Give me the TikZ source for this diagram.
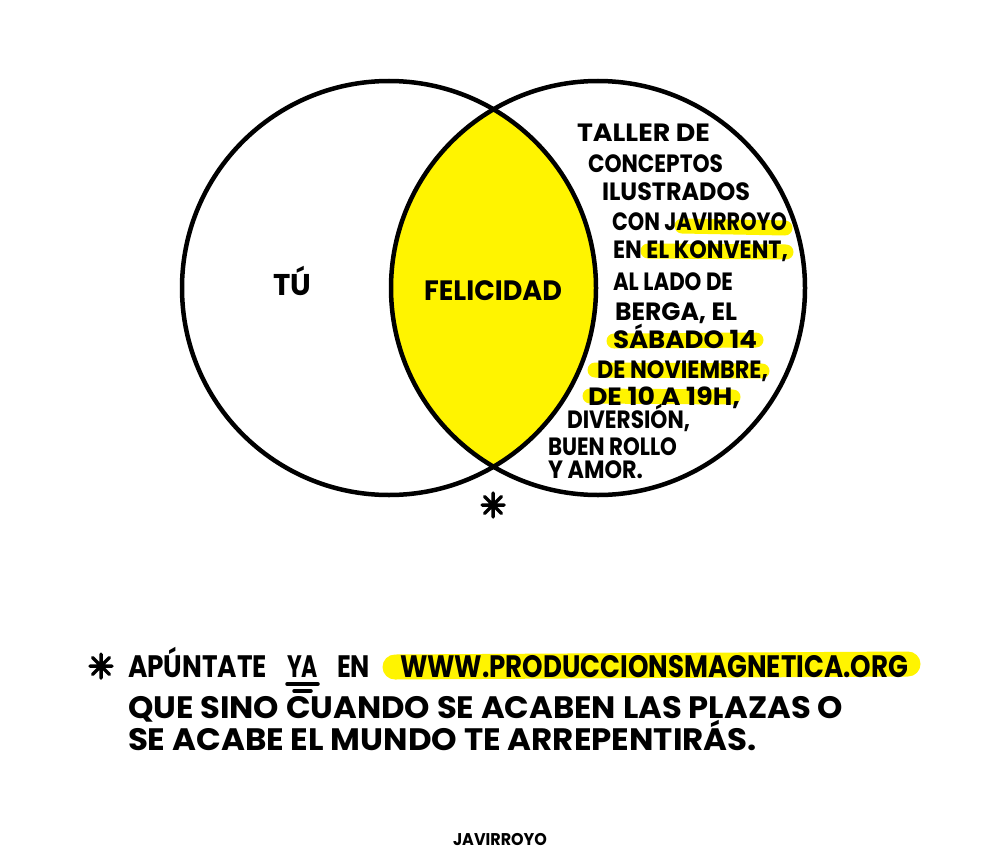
\documentclass[tikz,border=0pt]{standalone}
\usepackage{fontspec}
\setmainfont{Poppins}
\usepackage{graphicx}
\definecolor{hl}{RGB}{255,244,0}
\newcommand{\fitw}[2]{\resizebox{#1pt}{\height}{#2}}
\begin{document}
\begin{tikzpicture}[x=1pt,y=-1pt,
  txt/.style={anchor=base west, inner sep=0pt, outer sep=0pt, font=\bfseries},
  rtxt/.style={txt, font=\bfseries\fontsize{25}{25}\selectfont},
  btxt/.style={txt, font=\bfseries\fontsize{31}{31}\selectfont},
  hlstroke/.style={hl, line width=15pt, line cap=round},
  ring/.style={line width=4.5pt, black},
  pen/.style={line width=3.5pt, line cap=round, black},
  astpic/.pic={\draw[pen] (0,-12)--(0,12) (-11,0)--(11,0) (-8.5,-8.5)--(8.5,8.5) (-8.5,8.5)--(8.5,-8.5);}]
\useasboundingbox[fill=white] (0,0) rectangle (1000,864);
% circles
\coordinate (cl) at (389,288);
\coordinate (cr) at (598,288);
\begin{scope}
  \clip (cl) circle (207pt);
  \fill[hl] (cr) circle (207pt);
\end{scope}
% highlights
\coordinate (h1a) at (682,226); \coordinate (h1b) at (785,228);
\coordinate (h2a) at (648,251); \coordinate (h2b) at (786,252);
\coordinate (h3a) at (614,341); \coordinate (h3b) at (756,340);
\coordinate (h4a) at (595,370); \coordinate (h4b) at (762,371);
\coordinate (h5a) at (590,396); \coordinate (h5b) at (733,397);
\coordinate (h6a) at (395,667); \coordinate (h6b) at (908,664);
\draw[hlstroke] (h1a) -- (h1b);
\draw[hlstroke] (h2a) -- (h2b);
\draw[hlstroke] (h3a) -- (h3b);
\draw[hlstroke] (h4a) -- (h4b);
\draw[hlstroke] (h5a) -- (h5b);
\draw[hlstroke, line width=25pt] (h6a) -- (h6b);
\draw[ring] (cl) circle (207pt);
\draw[ring] (cr) circle (207pt);
% circle labels
\node[txt, font=\bfseries\fontsize{30}{30}\selectfont] (tu) at (273,295) {\fitw{38}{TÚ}};
\node[txt, font=\bfseries\fontsize{28}{28}\selectfont] (fel) at (424,300) {\fitw{138}{FELICIDAD}};
% right text
\node[rtxt] (r1) at (577,142) {\fitw{133}{TALLER DE}};
\node[rtxt] (r2) at (588,172) {\fitw{135}{CONCEPTOS}};
\node[rtxt] (r3) at (602,200) {\fitw{148}{ILUSTRADOS}};
\node[rtxt] (r4) at (612,230) {\fitw{175}{CON JAVIRROYO}};
\node[rtxt] (r5) at (613,258) {\fitw{175}{EN EL KONVENT,}};
\node[rtxt] (r6) at (613,290) {\fitw{120}{AL LADO DE}};
\node[rtxt] (r7) at (615,320) {\fitw{122}{BERGA, EL}};
\node[rtxt] (r8) at (613,348) {\fitw{144}{SÁBADO 14}};
\node[rtxt] (r9) at (597,378) {\fitw{171}{DE NOVIEMBRE,}};
\node[rtxt] (r10) at (588,405) {\fitw{152}{DE 10 A 19H,}};
\node[rtxt] (r11) at (567,428) {\fitw{123}{DIVERSIÓN,}};
\node[rtxt] (r12) at (548,455) {\fitw{129}{BUEN ROLLO}};
\node[rtxt] (r13) at (548,478) {\fitw{95}{Y AMOR.}};
% asterisk under circles
\pic at (493,505) {astpic};
% bottom text
\pic at (101,666) {astpic};
\node[btxt] (b1) at (128,677) {\fitw{139}{APÚNTATE}};
\node[btxt] (b2) at (287,677) {\fitw{31}{YA}};
\node[btxt] (b3) at (337,677) {\fitw{33}{EN}};
\node[btxt] (b4) at (400,677) {\fitw{508}{WWW.PRODUCCIONSMAGNETICA.ORG}};
\coordinate (u1a) at (287,684); \coordinate (u1b) at (318,684);
\coordinate (u2a) at (294,691); \coordinate (u2b) at (311,691);
\draw[pen] (u1a) -- (u1b);
\draw[pen] (u2a) -- (u2b);
\node[btxt] (b5) at (128,718) {\fitw{715}{QUE SINO CUANDO SE ACABEN LAS PLAZAS O}};
\node[btxt] (b6) at (128,750) {\fitw{629}{SE ACABE EL MUNDO TE ARREPENTIRÁS.}};
% signature
\node[txt, font=\bfseries\fontsize{17}{17}\selectfont] (sig) at (453,845) {\fitw{94}{JAVIRROYO}};
\end{tikzpicture}
\end{document}
